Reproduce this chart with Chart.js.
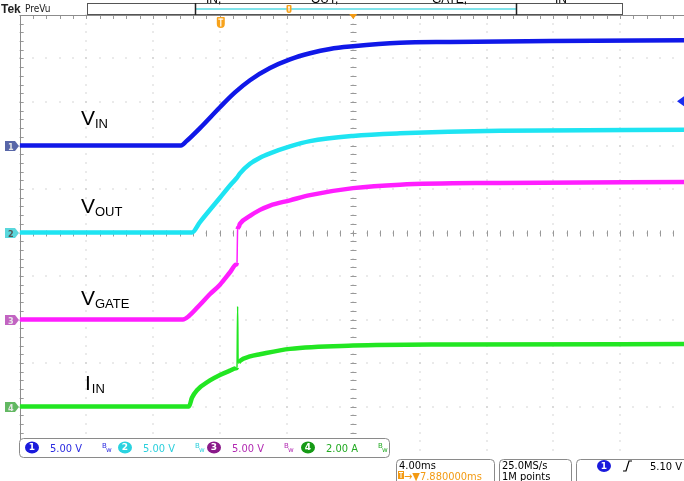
<!DOCTYPE html>
<html>
<head>
<meta charset="utf-8">
<script src="https://cdn.jsdelivr.net/npm/chart.js@4.4.1/dist/chart.umd.min.js"></script>
<style>
  html, body { margin: 0; padding: 0; background: #fff; overflow: hidden; }
  #wrap { position: relative; width: 690px; height: 481px; }
</style>
</head>
<body>
<div id="wrap"><canvas id="scope"></canvas></div>
<script>
// time base 4 ms/div, trigger (T) at t = 0 ms
const timeMin = -12;
const timeMax = 28;
const msPerDiv = 4;

// channel setup: volts (or amps) per division, ground position in divisions from bottom
const voltsPerDiv = [5, 5, 5, 2];
const groundDiv = [7, 5, 3, 1];
const traceColors = ['#1018e8', '#1ee4f2', '#ff1eff', '#22e622'];

// CH1 V_IN (V)
const vinTime  = [-12, -2.33, -2.0, -1.19, 0.01, 0.91, 1.81, 3.01, 4.21, 5.41, 6.61, 7.99, 10.81, 13.81, 19.81, 28];
const vinVolts = [0, 0, 0.5, 2.0, 4.4, 6.1, 7.5, 8.9, 9.9, 10.6, 11.1, 11.4, 11.8, 11.9, 12.0, 12.1];

// CH2 V_OUT (V)
const voutTime  = [-12, -1.67, -1.19, 0.01, 0.7, 1.03, 1.21, 1.81, 2.41, 3.01, 4.21, 5.41, 7.99, 10.81, 16.81, 28];
const voutVolts = [0, 0, 1.2, 4.0, 5.6, 6.3, 6.8, 7.9, 8.6, 9.1, 9.9, 10.5, 11.1, 11.4, 11.7, 11.8];

// CH3 V_GATE (V)
const vgateTime  = [-12, -2.21, -1.85, -1.19, -0.6, 0.01, 0.6, 0.97, 1.03, 1.07, 1.12, 1.21, 1.81, 2.41, 3.01, 4.21, 5.41, 7.99, 10.81, 16.81, 28];
const vgateVolts = [0, 0, 0.4, 1.7, 2.9, 4.0, 5.4, 6.3, 6.5, 10.4, 10.6, 11.0, 11.9, 12.6, 13.1, 13.7, 14.3, 15.1, 15.5, 15.7, 15.8];

// CH4 I_IN (A)
const iinTime = [-12, -1.85, -1.67, -1.37, -0.59, 0.01, 0.61, 0.97, 1.03, 1.07, 1.10, 1.13, 1.21, 1.81, 2.41, 4.21, 7.99, 13.81, 28];
const iinAmps = [0, 0, 0.4, 0.75, 1.2, 1.45, 1.65, 1.76, 1.8, 4.6, 2.0, 2.02, 2.1, 2.3, 2.4, 2.65, 2.8, 2.85, 2.87];

const traceNames = [['V', 'IN'], ['V', 'OUT'], ['V', 'GATE'], ['I', 'IN']];
const scaleReadouts = ['5.00 V', '5.00 V', '5.00 V', '2.00 A'];
const previewLabels = ['IN,', 'OUT,', 'GATE,', 'IN'];

function toPoints(times, values, ch) {
    return times.map((t, i) => ({ x: t, y: values[i] / voltsPerDiv[ch] + groundDiv[ch] }));
}

function makeTrace(times, values, ch) {
    return {
        data: toPoints(times, values, ch),
        borderColor: traceColors[ch],
        borderWidth: 4.5,
        pointRadius: 0,
        cubicInterpolationMode: 'monotone',
        segment: {
            // fast edges are drawn thin, like the scope does
            borderWidth: c => (c.p1.parsed.x - c.p0.parsed.x < 0.05 ? 1.5 : 4.5)
        }
    };
}

// dotted graticule with center-line ticks
const graticule = {
    id: 'graticule',
    beforeDatasetsDraw(chart) {
        const { ctx, chartArea: a, scales: { x, y } } = chart;
        ctx.save();
        ctx.fillStyle = '#aaaaaa';
        for (let d = 1; d < 10; d++) {
            const px = x.getPixelForValue(timeMin + d * msPerDiv);
            for (let m = 0; m <= 50; m++) {
                const py = y.getPixelForValue(m / 5);
                ctx.fillRect(Math.round(px) - 0.5, Math.round(py) - 0.5, 1, 1);
            }
        }
        for (let d = 1; d < 10; d++) {
            const py = y.getPixelForValue(d);
            for (let m = 0; m <= 50; m++) {
                const px = x.getPixelForValue(timeMin + m * msPerDiv / 5);
                ctx.fillRect(Math.round(px) - 0.5, Math.round(py) - 0.5, 1, 1);
            }
        }
        // center cross ticks
        ctx.strokeStyle = '#999999';
        ctx.lineWidth = 1;
        const cx = Math.round(x.getPixelForValue(timeMin + 5 * msPerDiv)) + 0.5;
        const cy = Math.round(y.getPixelForValue(5)) + 0.5;
        ctx.beginPath();
        for (let m = 0; m <= 50; m++) {
            const py = Math.round(y.getPixelForValue(m / 5)) + 0.5;
            ctx.moveTo(cx - 3, py); ctx.lineTo(cx + 3, py);
            const px = Math.round(x.getPixelForValue(timeMin + m * msPerDiv / 5)) + 0.5;
            ctx.moveTo(px, cy - 3); ctx.lineTo(px, cy + 3);
            // edge ticks
            ctx.moveTo(a.left, py); ctx.lineTo(a.left + 4, py);
            ctx.moveTo(px, a.top); ctx.lineTo(px, a.top + 4);
        }
        ctx.stroke();
        // left and top border
        ctx.strokeStyle = '#8c8c8c';
        ctx.beginPath();
        ctx.moveTo(Math.round(a.left) + 0.5, a.bottom);
        ctx.lineTo(Math.round(a.left) + 0.5, a.top);
        ctx.moveTo(a.left, Math.round(a.top) + 0.5);
        ctx.lineTo(a.right, Math.round(a.top) + 0.5);
        ctx.stroke();
        ctx.restore();
    }
};

function badge(ctx, x, y, txt, fill) {
    ctx.fillStyle = fill;
    ctx.beginPath();
    ctx.ellipse(x, y, 7, 6, 0, 0, Math.PI * 2);
    ctx.fill();
    ctx.fillStyle = '#ffffff';
    ctx.font = 'bold 9px "DejaVu Sans"';
    ctx.textAlign = 'center';
    ctx.textBaseline = 'middle';
    ctx.fillText(txt, x, y + 0.5);
    ctx.textAlign = 'left';
    ctx.textBaseline = 'alphabetic';
}

function bwIcon(ctx, x, y, color) {
    ctx.fillStyle = color;
    ctx.font = '7px "DejaVu Sans"';
    ctx.fillText('B', x, y - 2);
    ctx.fillText('w', x + 4, y + 2);
}

function roundBox(ctx, x, y, w, h) {
    ctx.beginPath();
    ctx.roundRect(x + 0.5, y + 0.5, w, h, 4);
    ctx.fillStyle = '#ffffff';
    ctx.fill();
    ctx.strokeStyle = '#8a8a8a';
    ctx.lineWidth = 1;
    ctx.stroke();
}

function triggerT(ctx, x, y, w, h) {
    ctx.fillStyle = '#f7a21b';
    ctx.beginPath();
    ctx.roundRect(x - w / 2, y, w, h, [1, 1, w / 2, w / 2]);
    ctx.fill();
    ctx.fillStyle = '#ffffff';
    ctx.fillRect(x - w / 2 + 1.5, y + 1.5, w - 3, 1.2);
    ctx.fillRect(x - 0.6, y + 1.5, 1.2, h - 3);
}

const overlays = {
    id: 'overlays',
    afterDraw(chart) {
        const { ctx, scales: { x, y } } = chart;
        ctx.save();

        // trace names
        const nameY = [125, 213, 305, 390];
        traceNames.forEach((n, i) => {
            ctx.fillStyle = '#000000';
            ctx.font = '21px "Liberation Sans"';
            const x0 = n[0] === 'I' ? 85 : 81;
            ctx.fillText(n[0], x0, nameY[i]);
            const w = ctx.measureText(n[0]).width;
            ctx.font = '13px "Liberation Sans"';
            ctx.fillText(n[1], x0 + w + (n[0] === 'I' ? 1 : 0), nameY[i] + 3);
        });

        // channel ground markers on the left
        const markFill = ['#5866a8', '#59d7dc', '#c264c2', '#62b862'];
        groundDiv.forEach((g, i) => {
            const py = Math.round(y.getPixelForValue(g));
            ctx.fillStyle = markFill[i];
            ctx.beginPath();
            ctx.moveTo(5, py - 5); ctx.lineTo(15, py - 5); ctx.lineTo(19, py);
            ctx.lineTo(15, py + 5); ctx.lineTo(5, py + 5); ctx.closePath();
            ctx.fill();
            ctx.fillStyle = i === 1 ? '#555555' : '#e8e8e8';
            ctx.font = 'bold 9px "DejaVu Sans Condensed"';
            ctx.fillText(String(i + 1), 8, py + 3.5);
        });

        // trigger level marker on the right (5.10 V on CH1)
        const ty = y.getPixelForValue(5.1 / voltsPerDiv[0] + groundDiv[0]);
        ctx.fillStyle = '#1a2cf0';
        ctx.beginPath();
        ctx.moveTo(677, ty); ctx.lineTo(684, ty - 5); ctx.lineTo(684, ty + 5); ctx.closePath();
        ctx.fill();

        // top: Tek PreVu and record preview bar
        ctx.fillStyle = '#222222';
        ctx.font = 'bold 12px "Liberation Sans"';
        ctx.fillText('Tek', 1, 13);
        ctx.font = '10px "DejaVu Sans Condensed"';
        ctx.fillText('PreVu', 25, 12);
        ctx.fillStyle = '#ffffff';
        ctx.fillRect(87, 3, 535, 11);
        ctx.strokeStyle = '#555555';
        ctx.lineWidth = 1;
        ctx.strokeRect(87.5, 3.5, 535, 11);
        ctx.strokeStyle = '#7fe3ea';
        ctx.lineWidth = 2;
        ctx.beginPath(); ctx.moveTo(196, 9); ctx.lineTo(516, 9); ctx.stroke();
        ctx.strokeStyle = '#222222';
        ctx.lineWidth = 1.5;
        ctx.beginPath();
        ctx.moveTo(195.5, 3); ctx.lineTo(195.5, 15);
        ctx.moveTo(516.5, 3); ctx.lineTo(516.5, 15);
        ctx.stroke();
        // clipped labels above the bar
        ctx.fillStyle = '#000000';
        ctx.font = '12px "Liberation Sans"';
        const labX = [206, 311, 432, 555];
        previewLabels.forEach((t, i) => ctx.fillText(t, labX[i], 3));
        triggerT(ctx, 289, 5, 5, 8);
        // expansion point marker
        const cx = x.getPixelForValue(timeMin + 5 * msPerDiv);
        ctx.fillStyle = '#f39a12';
        ctx.beginPath();
        ctx.moveTo(cx - 4, 14); ctx.lineTo(cx + 4, 14); ctx.lineTo(cx, 19); ctx.closePath();
        ctx.fill();
        // trigger position marker
        triggerT(ctx, x.getPixelForValue(0) + 1, 17, 8, 11);

        // bottom: channel readout
        roundBox(ctx, 19, 438, 370, 19);
        const badgeFill = ['#1a1adc', '#2ad3e0', '#8a1a8a', '#169a16'];
        const textFill = ['#2a2ae0', '#2ccfdc', '#b22ab2', '#22aa22'];
        const badgeX = [32, 125, 214, 308];
        scaleReadouts.forEach((s, i) => {
            badge(ctx, badgeX[i], 447.5, String(i + 1), badgeFill[i]);
            ctx.fillStyle = textFill[i];
            ctx.font = '11px "DejaVu Sans Condensed"';
            ctx.fillText(s, badgeX[i] + 18, 452);
            bwIcon(ctx, badgeX[i] + 70, 450, textFill[i]);
        });

        // timebase box
        roundBox(ctx, 396, 459, 98, 26);
        ctx.fillStyle = '#000000';
        ctx.font = '11px "DejaVu Sans Condensed"';
        ctx.fillText('4.00ms', 399, 469);
        ctx.fillStyle = '#f39a12';
        ctx.fillRect(398, 471, 6, 8);
        ctx.fillStyle = '#ffffff';
        ctx.fillRect(399, 472, 4, 1);
        ctx.fillRect(400.5, 472, 1, 6);
        ctx.fillStyle = '#f39a12';
        ctx.fillText('\u2192\u25BC7.880000ms', 404, 480);

        // acquisition box
        roundBox(ctx, 499, 459, 72, 26);
        ctx.fillStyle = '#000000';
        ctx.fillText('25.0MS/s', 502, 469);
        ctx.fillText('1M points', 502, 480);

        // trigger box
        roundBox(ctx, 576, 459, 120, 26);
        badge(ctx, 604, 466, '1', '#1a1adc');
        ctx.strokeStyle = '#000000';
        ctx.lineWidth = 1.2;
        ctx.beginPath();
        ctx.moveTo(623, 471); ctx.lineTo(626, 471); ctx.lineTo(629, 461); ctx.lineTo(632, 461);
        ctx.stroke();
        ctx.fillStyle = '#000000';
        ctx.font = '11px "DejaVu Sans Condensed"';
        ctx.fillText('5.10 V', 650, 470);

        ctx.restore();
    }
};

new Chart(document.getElementById('scope').getContext('2d'), {
    type: 'line',
    data: {
        datasets: [
            makeTrace(vinTime, vinVolts, 0),
            makeTrace(voutTime, voutVolts, 1),
            makeTrace(vgateTime, vgateVolts, 2),
            makeTrace(iinTime, iinAmps, 3)
        ]
    },
    options: {
        responsive: true,
        maintainAspectRatio: false,
        animation: false,
        layout: { padding: { left: 19.7, right: 3.3, top: 15, bottom: 31 } },
        scales: {
            x: { type: 'linear', min: timeMin, max: timeMax, display: false },
            y: { type: 'linear', min: 0, max: 10, display: false }
        },
        plugins: {
            legend: { display: false },
            tooltip: { enabled: false }
        }
    },
    plugins: [graticule, overlays]
});
</script>
</body>
</html>
